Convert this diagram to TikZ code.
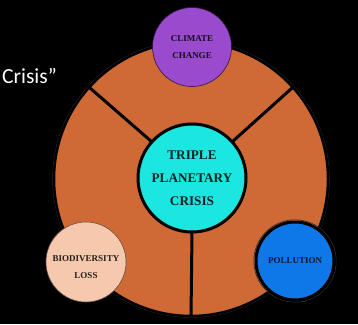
\documentclass[tikz,border=0pt]{standalone}
\usepackage{fontspec}
\setmainfont{Liberation Serif}
\newfontfamily\calib{Carlito}
\definecolor{orangefill}{HTML}{CF6935}
\definecolor{cyanfill}{HTML}{1CE6E0}
\definecolor{purplefill}{HTML}{9A4ACD}
\definecolor{peachfill}{HTML}{F6C9AF}
\definecolor{bluefill}{HTML}{0F78E9}
\definecolor{ringgray}{HTML}{2A2A2A}
\begin{document}
\begin{tikzpicture}[x=1pt,y=-1pt,
  bubble/.style={circle,inner sep=0pt,align=center,font=\bfseries\fontsize{9}{17.5}\selectfont},
  spoke/.style={line width=3pt,black}]
\fill[black] (0,0) rectangle (358,324);
\useasboundingbox (0,0) rectangle (358,324);
% title fragment
\node[anchor=east,text=white,inner sep=0pt,font=\calib\fontsize{21.5}{26}\selectfont] (title) at (57,76) {Crisis”};
% big circle
\draw[ringgray,line width=0.7pt] (191,179) circle (138.3);
\node[circle,minimum size=274pt,inner sep=0pt,fill=orangefill,draw=black,line width=2.5pt] (big) at (191,179) {};
% center circle
\node[circle,minimum size=108pt,inner sep=0pt,fill=cyanfill] (core) at (192,178) {};
\draw[spoke] (core.138) -- (big.138);
\draw[spoke] (core.42) -- (big.42);
\draw[spoke] (core.-90) -- (big.-90);
\node[circle,minimum size=108pt,inner sep=0pt,fill=cyanfill,draw=black,line width=3pt,align=center,
  text=black!85!cyanfill,font=\bfseries\fontsize{13.2}{23}\selectfont] (core2) at (192,178) {TRIPLE\\PLANETARY\\CRISIS};
% outer circles
\node[bubble,minimum size=79pt,fill=purplefill,draw=black!70!purplefill,line width=0.6pt,text=black!85!purplefill] (climate) at (192,47) {CLIMATE\\CHANGE};
\node[bubble,minimum size=80pt,fill=peachfill,draw=black!60!peachfill,line width=0.6pt,text=black!85!peachfill] (bio) at (86,262) {};
\node[align=center,font=\bfseries\fontsize{9}{17.5}\selectfont,text=black!85!peachfill] (biotext) at (86,267) {BIODIVERSITY\\LOSS};
\draw[ringgray,line width=0.6pt] (295,261) circle (41.2);
\node[bubble,minimum size=78pt,fill=bluefill,draw=black,line width=3pt,text=black!80!bluefill] (poll) at (295,261) {POLLUTION};
\end{tikzpicture}
\end{document}
